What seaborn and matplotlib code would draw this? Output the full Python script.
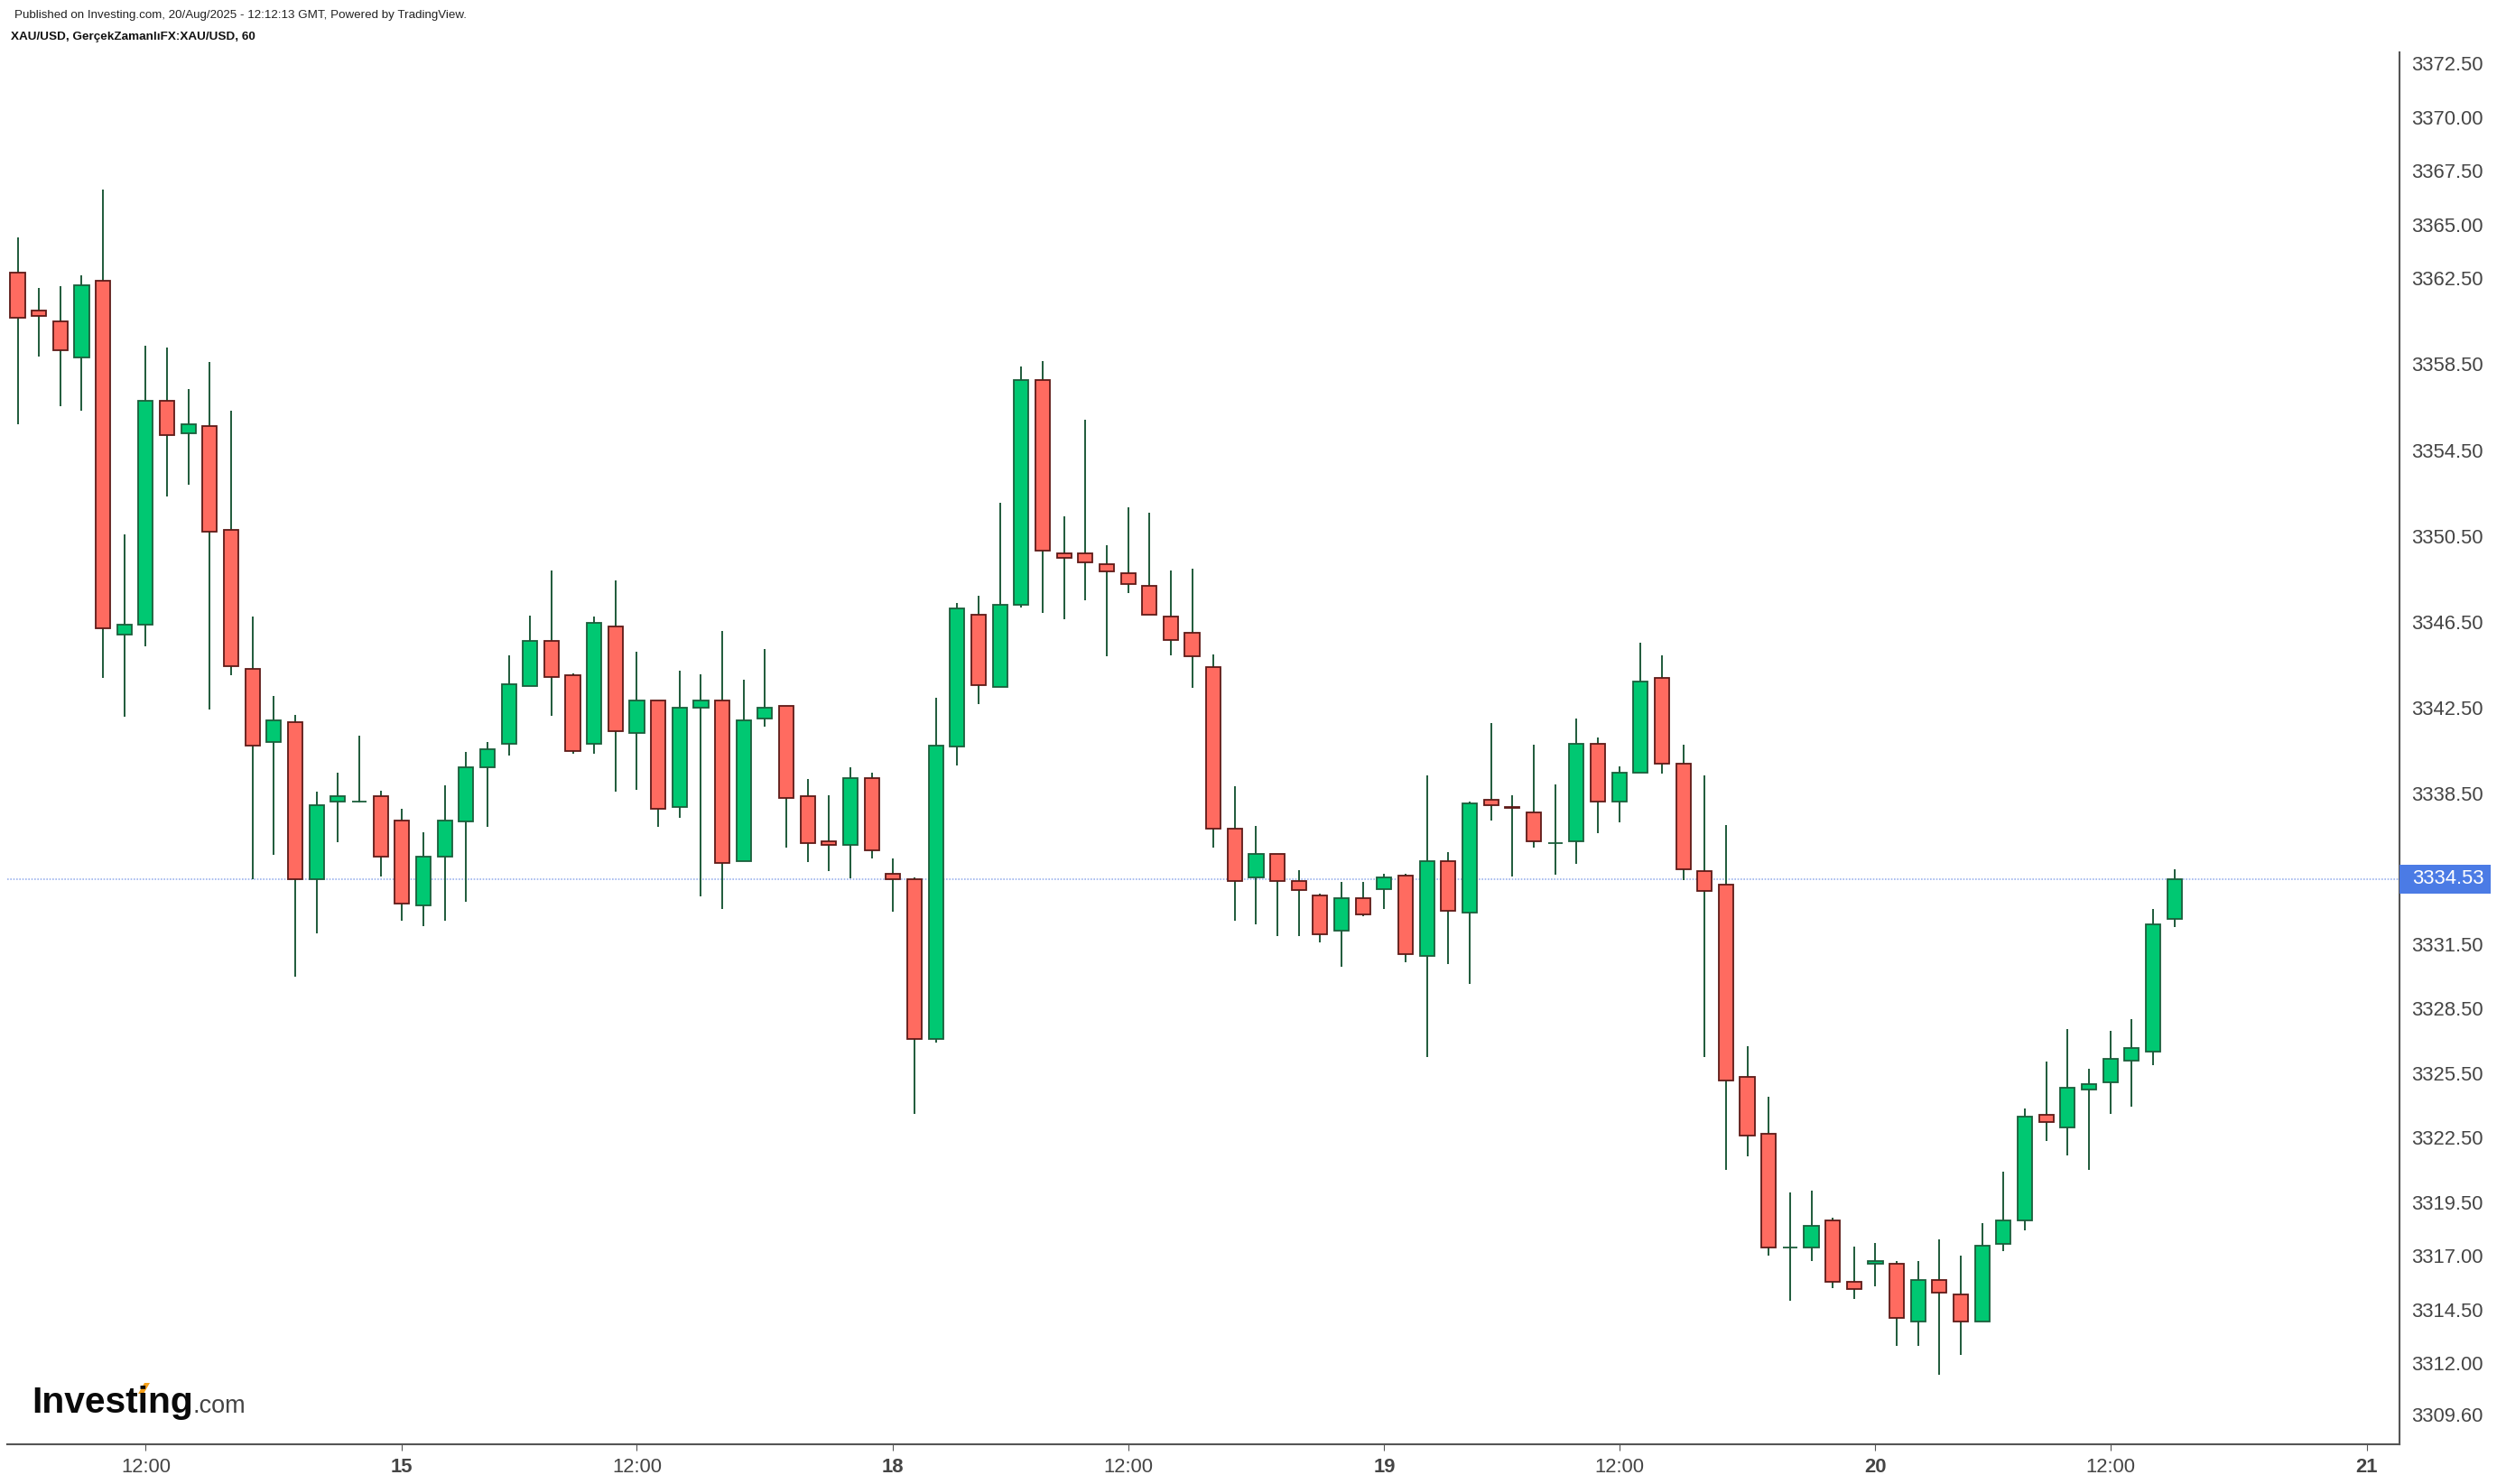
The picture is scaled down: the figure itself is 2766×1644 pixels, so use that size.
import numpy as np
import pandas as pd
import matplotlib
matplotlib.use('Agg')
import matplotlib.pyplot as plt
import matplotlib.transforms as mtransforms
from matplotlib.patches import Rectangle, Polygon
import seaborn as sns

# hourly XAU/USD candles (oldest first)
opens = [3362.77, 3361.00, 3360.49, 3358.82, 3362.36, 3345.90, 3346.38, 3356.78, 3355.26, 3355.62,
         3350.80, 3344.30, 3340.91, 3341.85, 3334.53, 3338.12, 3338.12, 3338.38, 3337.27, 3333.29,
         3335.57, 3337.21, 3339.73, 3340.82, 3343.51, 3345.62, 3344.03, 3340.82, 3346.29, 3341.32,
         3342.85, 3337.88, 3342.51, 3342.85, 3335.36, 3341.99, 3342.60, 3338.40, 3336.29, 3336.11,
         3339.24, 3334.76, 3334.51, 3327.08, 3340.69, 3346.85, 3343.48, 3347.28, 3357.75, 3349.71,
         3349.71, 3349.20, 3348.78, 3348.19, 3346.76, 3345.99, 3344.39, 3336.87, 3334.60, 3335.70,
         3334.44, 3333.76, 3332.14, 3333.65, 3334.08, 3334.68, 3330.95, 3335.35, 3332.98, 3338.21,
         3337.87, 3337.63, 3336.21, 3336.28, 3340.84, 3338.13, 3339.49, 3343.88, 3339.92, 3334.92,
         3334.25, 3325.31, 3322.68, 3317.38, 3317.38, 3318.66, 3315.78, 3316.62, 3316.62, 3313.93,
         3315.86, 3315.19, 3313.93, 3317.56, 3318.66, 3323.54, 3322.96, 3324.75, 3325.08, 3326.08,
         3326.51, 3332.67]
highs = [3364.40, 3362.05, 3362.12, 3362.63, 3366.63, 3350.58, 3359.35, 3359.28, 3357.32, 3358.60,
         3356.32, 3346.77, 3343.06, 3342.19, 3338.58, 3339.50, 3341.20, 3338.65, 3337.78, 3336.69,
         3338.89, 3340.43, 3340.93, 3344.96, 3346.81, 3348.91, 3344.11, 3346.73, 3348.41, 3345.13,
         3342.85, 3344.21, 3344.04, 3346.06, 3343.79, 3345.22, 3342.60, 3339.17, 3338.41, 3339.75,
         3339.50, 3335.49, 3334.62, 3342.96, 3347.37, 3347.70, 3352.03, 3358.38, 3358.62, 3351.42,
         3355.90, 3350.06, 3351.85, 3351.59, 3348.89, 3348.96, 3345.00, 3338.84, 3337.01, 3335.70,
         3334.95, 3333.85, 3334.38, 3334.38, 3334.77, 3334.77, 3339.36, 3335.78, 3338.15, 3341.81,
         3338.41, 3340.78, 3338.95, 3341.99, 3341.12, 3339.79, 3345.52, 3344.94, 3340.78, 3339.36,
         3337.05, 3326.75, 3324.40, 3319.95, 3320.03, 3318.76, 3317.42, 3317.59, 3316.74, 3316.74,
         3317.74, 3317.00, 3318.52, 3320.89, 3323.85, 3326.03, 3327.55, 3325.69, 3327.47, 3327.99,
         3333.14, 3335.00]
lows = [3355.72, 3358.87, 3356.52, 3356.35, 3343.91, 3342.09, 3345.37, 3352.35, 3352.88, 3342.41,
        3344.03, 3334.53, 3335.65, 3329.97, 3332.01, 3336.23, 3338.10, 3334.63, 3332.59, 3332.35,
        3332.59, 3333.49, 3336.94, 3340.30, 3343.51, 3342.14, 3340.38, 3340.37, 3338.61, 3338.69,
        3336.94, 3337.36, 3333.73, 3333.14, 3335.36, 3341.63, 3336.00, 3335.33, 3334.92, 3334.57,
        3335.50, 3333.03, 3323.59, 3326.92, 3339.83, 3342.68, 3343.48, 3347.16, 3346.90, 3346.64,
        3347.51, 3344.89, 3347.84, 3346.85, 3344.96, 3343.43, 3336.01, 3332.61, 3332.44, 3331.86,
        3331.86, 3331.60, 3330.44, 3332.78, 3333.13, 3330.67, 3326.23, 3330.59, 3329.66, 3337.27,
        3334.66, 3336.00, 3334.75, 3335.24, 3336.68, 3337.18, 3339.49, 3339.44, 3334.49, 3326.23,
        3320.98, 3321.64, 3316.99, 3314.91, 3316.77, 3315.49, 3314.99, 3315.57, 3312.79, 3312.79,
        3311.45, 3312.37, 3313.93, 3317.21, 3318.19, 3322.35, 3321.67, 3320.99, 3323.61, 3323.95,
        3325.88, 3332.30]
closes = [3360.66, 3360.76, 3359.14, 3362.19, 3346.21, 3346.38, 3356.78, 3355.18, 3355.69, 3350.70,
          3344.45, 3340.74, 3341.92, 3334.53, 3337.95, 3338.38, 3338.12, 3335.57, 3333.39, 3335.57,
          3337.27, 3339.74, 3340.58, 3343.61, 3345.62, 3343.93, 3340.50, 3346.46, 3341.41, 3342.85,
          3337.79, 3342.51, 3342.85, 3335.27, 3341.91, 3342.51, 3338.30, 3336.21, 3336.13, 3339.24,
          3335.86, 3334.53, 3327.08, 3340.76, 3347.11, 3343.55, 3347.28, 3357.75, 3349.81, 3349.46,
          3349.29, 3348.87, 3348.28, 3346.85, 3345.66, 3344.91, 3336.87, 3334.44, 3335.70, 3334.44,
          3334.01, 3331.98, 3333.65, 3332.89, 3334.59, 3331.04, 3335.35, 3333.06, 3338.04, 3337.98,
          3337.83, 3336.30, 3336.21, 3340.84, 3338.13, 3339.49, 3343.71, 3339.92, 3335.00, 3333.99,
          3325.14, 3322.59, 3317.38, 3317.38, 3318.40, 3315.77, 3315.44, 3316.75, 3314.09, 3315.86,
          3315.28, 3313.93, 3317.48, 3318.66, 3323.48, 3323.22, 3324.80, 3324.98, 3326.18, 3326.68,
          3332.43, 3334.53]

time_ticks = [6, 18, 29, 41, 52, 64, 75, 87, 98, 110]
time_labels = ['12:00', '15', '12:00', '18', '12:00', '19', '12:00', '20', '12:00', '21']
day_labels = ['15', '18', '19', '20', '21']
price_ticks = [3372.50, 3370.00, 3367.50, 3365.00, 3362.50, 3358.50, 3354.50, 3350.50, 3346.50,
               3342.50, 3338.50, 3331.50, 3328.50, 3325.50, 3322.50, 3319.50, 3317.00, 3314.50,
               3312.00, 3309.60]
last_price = 3334.53

UP_FACE, UP_EDGE = '#00c872', '#1b5e3b'
DN_FACE, DN_EDGE = '#ff6b60', '#5e1a17'
WICK = '#1e5a3a'
AXIS_GREY = '#555555'

sns.set_style('white')
plt.rcParams['font.family'] = ['Liberation Sans', 'DejaVu Sans']

df = pd.DataFrame({'open': opens, 'high': highs, 'low': lows, 'close': closes})
df['bar'] = np.arange(len(df))
df['up'] = df['close'] >= df['open']

W, H = 2766, 1644
fig = plt.figure(figsize=(W / 100, H / 100), dpi=100)
ax = fig.add_axes([0.00278, 0.02676, 0.95807, 0.93796])

# wicks then bodies
ax.vlines(df['bar'], df['low'], df['high'], colors=WICK, linewidth=1.4, zorder=2)
ax.bar(df['bar'], (df['close'] - df['open']).abs(),
       bottom=df[['open', 'close']].min(axis=1), width=0.68,
       color=np.where(df['up'], UP_FACE, DN_FACE),
       edgecolor=np.where(df['up'], UP_EDGE, DN_EDGE),
       linewidth=1.3, zorder=3)

# last price line + label
ax.axhline(last_price, color='#9db4ee', linewidth=1.2, linestyle=(0, (1, 1)), zorder=1)
trans = mtransforms.blended_transform_factory(fig.transFigure, ax.transData)
ax.add_patch(Rectangle((0.9609, last_price - 0.68), 0.0366, 1.36, transform=trans,
                       facecolor='#4b7be5', edgecolor='none', clip_on=False, zorder=5))
fig.text(0.9659, last_price, f'{last_price:.2f}', transform=trans, color='white',
         fontsize=15.8, ha='left', va='center', zorder=6)

ax.set_xlim(-0.5, 111.53)
ax.set_ylim(3308.22, 3373.01)

ax.yaxis.tick_right()
ax.set_yticks(price_ticks)
ax.set_yticklabels([f'{p:.2f}' for p in price_ticks])
ax.set_xticks(time_ticks)
ax.set_xticklabels(time_labels)
for lab in ax.get_xticklabels():
    if lab.get_text() in day_labels:
        lab.set_fontweight('bold')

ax.tick_params(axis='y', which='both', right=True, left=False, length=4.8, width=0.8,
               color=AXIS_GREY, labelcolor='#454545', labelsize=15.8, pad=5.2)
ax.tick_params(axis='x', which='both', bottom=True, length=5, width=0.8,
               color=AXIS_GREY, labelcolor='#454545', labelsize=15.8, pad=6)

sns.despine(ax=ax, left=True, top=True, right=False, bottom=False)
for side in ['right', 'bottom']:
    ax.spines[side].set_color(AXIS_GREY)
    ax.spines[side].set_linewidth(1.5)
ax.grid(False)

# header
fig.text(0.0058, 0.9897, 'Published on Investing.com, 20/Aug/2025 - 12:12:13 GMT, Powered by TradingView.',
         fontsize=9.6, color='#222222', ha='left', va='center')
fig.text(0.0045, 0.9752, 'XAU/USD, GerçekZamanlıFX:XAU/USD, 60',
         fontsize=9.7, fontweight='bold', color='#111111', ha='left', va='center')

# watermark logo
fig.text(35 / W, 1 - 1565 / H, 'Investing', fontsize=29.3, fontweight='bold', color='#0a0a0a',
         ha='left', va='baseline')
fig.text(214 / W, 1 - 1565 / H, '.com', fontsize=19.5, color='#444444', ha='left', va='baseline')
accent = [(153, 1544), (159, 1544), (166, 1532), (160, 1532)]
fig.patches.append(Polygon([(x / W, 1 - y / H) for x, y in accent], closed=True,
                           transform=fig.transFigure, facecolor='#f5a01a', edgecolor='none'))

fig.savefig('out.png', dpi=100, facecolor='white')
